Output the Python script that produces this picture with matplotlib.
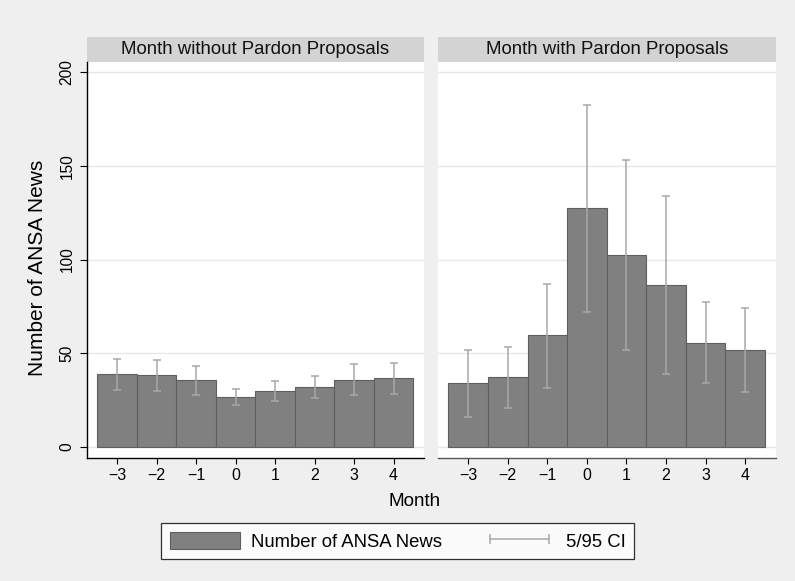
import matplotlib
matplotlib.use("Agg")
import matplotlib.pyplot as plt
from matplotlib.patches import Rectangle, Patch
from matplotlib.lines import Line2D

plt.rcParams['font.family'] = ['Liberation Sans', 'DejaVu Sans']

months = [-3, -2, -1, 0, 1, 2, 3, 4]
month_labels = ["\u22123", "\u22122", "\u22121", "0", "1", "2", "3", "4"]
panel_titles = ["Month without Pardon Proposals", "Month with Pardon Proposals"]

news_without = [38.7, 38.1, 35.4, 26.7, 29.9, 31.9, 35.8, 36.5]
ci_low_without = [30.4, 29.9, 27.4, 22.3, 24.4, 25.8, 27.8, 28.3]
ci_high_without = [46.8, 46.5, 43.1, 31.0, 35.2, 37.9, 44.0, 44.5]

news_with = [33.8, 37.0, 59.5, 127.4, 102.5, 86.5, 55.5, 51.5]
ci_low_with = [16.0, 20.8, 31.3, 72.1, 51.8, 39.0, 33.8, 29.0]
ci_high_with = [51.8, 53.2, 87.0, 182.6, 153.2, 134.2, 77.1, 73.9]

yticks = [0, 50, 100, 150, 200]

W, H = 795, 581
BG = '#efefef'
BAR = '#808080'
BAR_EDGE = '#5e5e5e'
CI = '#a8a8a8'
STRIP = '#d3d3d3'
GRID = '#e8e8e8'

fig = plt.figure(figsize=(W / 100, H / 100), dpi=100, facecolor=BG)

top_px, bot_px = 61.7, 457.7
panels_px = [(86.7, 424.0), (437.7, 775.7)]
series = [(news_without, ci_low_without, ci_high_without),
          (news_with, ci_low_with, ci_high_with)]

axes = []
for i, ((x0, x1), (vals, lo, hi)) in enumerate(zip(panels_px, series)):
    ax = fig.add_axes([x0 / W, (H - bot_px) / H, (x1 - x0) / W, (bot_px - top_px) / H])
    ax.set_facecolor('white')
    ax.bar(months, vals, width=1.0, color=BAR, edgecolor=BAR_EDGE, linewidth=0.8, zorder=2)
    err_lo = [v - l for v, l in zip(vals, lo)]
    err_hi = [h - v for v, h in zip(vals, hi)]
    ax.errorbar(months, vals, yerr=[err_lo, err_hi], fmt='none', ecolor=CI,
                elinewidth=1.1, capsize=3.2, capthick=1.1, zorder=3)
    ax.set_xlim(-3.77, 4.77)
    ax.set_ylim(-5.9, 205.7)
    ax.set_yticks(yticks)
    ax.yaxis.grid(True, color=GRID, linewidth=1.0, zorder=0)
    ax.set_axisbelow(True)
    ax.set_xticks(months)
    ax.set_xticklabels(month_labels, fontsize=11.5)
    ax.tick_params(axis='x', length=4.4, width=0.8, pad=3.0, colors='black')
    for s in ['top', 'right']:
        ax.spines[s].set_visible(False)
    if i == 0:
        ax.set_yticklabels([str(t) for t in yticks], fontsize=11.2, rotation=90, va='center')
        ax.tick_params(axis='y', length=4.8, width=0.8, pad=4)
        ax.spines['left'].set_color('black')
        ax.spines['bottom'].set_color('black')
    else:
        ax.set_yticklabels([])
        ax.tick_params(axis='y', length=0)
        ax.spines['left'].set_visible(False)
        ax.spines['bottom'].set_color('#555555')
    ax.spines['bottom'].set_linewidth(1.0)
    ax.spines['left'].set_linewidth(1.0)
    # title strip
    h_strip = 25.0 / (bot_px - top_px)
    ax.add_patch(Rectangle((0, 1), 1, h_strip, transform=ax.transAxes, clip_on=False,
                           facecolor=STRIP, edgecolor='none'))
    ax.text(0.5, 1 + h_strip / 2, panel_titles[i], transform=ax.transAxes,
            ha='center', va='center', fontsize=13.45, color='#111111')
    axes.append(ax)

fig.text(37.5 / W, (H - 267.5) / H, "Number of ANSA News", rotation=90,
         ha='center', va='center', fontsize=15)
fig.text(415 / W, (H - 502) / H, "Month", ha='center', va='center', fontsize=13.6)

handles = [Patch(facecolor=BAR, edgecolor=BAR_EDGE, linewidth=0.8),
           Line2D([], [], color=CI, linewidth=1.1, marker='|', markersize=7,
                  markeredgewidth=1.1)]
leg = fig.legend(handles, ["Number of ANSA News", "5/95 CI"], loc='center',
                 bbox_to_anchor=(397.5 / W, (H - 541.3) / H), ncol=2,
                 fontsize=13.3, frameon=True, fancybox=False, numpoints=2,
                 handlelength=3.8, handleheight=1.1, handletextpad=0.6,
                 columnspacing=2.3, borderpad=0.45)
leg.get_frame().set_edgecolor('black')
leg.get_frame().set_linewidth(0.9)
leg.get_frame().set_facecolor('white')

fig.savefig("out.png", dpi=100, facecolor=BG)
